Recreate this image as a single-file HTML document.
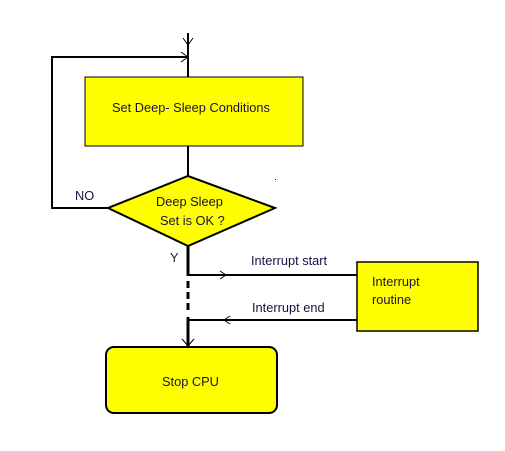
<!DOCTYPE html>
<html><head><style>body{margin:0;background:#fff}svg{display:block}text{font-family:"Liberation Sans",sans-serif;font-size:12.8px;fill:#1a1040}</style></head>
<body><svg width="505" height="451" viewBox="0 0 505 451">
<g stroke="#000" fill="none" stroke-width="2">
<line x1="188" y1="33" x2="188" y2="77"/>
<polyline points="183,38 188,45 193,38" stroke-width="1"/>
<polyline points="188,57 52,57 52,208 108,208"/>
<polyline points="181,52 188,57 181,62" stroke-width="1"/>
<line x1="188" y1="146" x2="188" y2="176"/>
<line x1="188" y1="246" x2="188" y2="276" stroke-width="3"/>
<line x1="188" y1="281" x2="188" y2="312" stroke-width="3" stroke-dasharray="7,4"/>
<line x1="188" y1="317" x2="188" y2="347" stroke-width="3"/>
<polyline points="182,339 188,346 194,339" stroke-width="1"/>
<line x1="188" y1="275" x2="357" y2="275"/>
<polyline points="220,271 226,275 220,279" stroke-width="1"/>
<line x1="188" y1="320" x2="357" y2="320"/>
<polyline points="230,316 224,320 230,324" stroke-width="1"/>
</g>
<rect x="85" y="77" width="218" height="69" fill="#ffff00" stroke="#000" stroke-width="1"/>
<polygon points="188,176 275,208 188,246 108,208" fill="#ffff00" stroke="#000" stroke-width="2"/>
<rect x="357" y="262" width="121" height="69" fill="#ffff00" stroke="#000" stroke-width="1.5"/>
<rect x="106" y="347" width="171" height="66" rx="8" fill="#ffff00" stroke="#000" stroke-width="2"/>
<rect x="275" y="179" width="1" height="1" fill="#000"/>
<text x="112" y="112">Set Deep- Sleep Conditions</text>
<text x="156" y="206">Deep Sleep</text>
<text x="160" y="225">Set is OK ?</text>
<text x="75" y="200">NO</text>
<text x="170" y="262">Y</text>
<text x="251" y="265">Interrupt start</text>
<text x="252" y="312">Interrupt end</text>
<text x="372" y="286">Interrupt</text>
<text x="372" y="304">routine</text>
<text x="162" y="386">Stop CPU</text>
</svg></body></html>
